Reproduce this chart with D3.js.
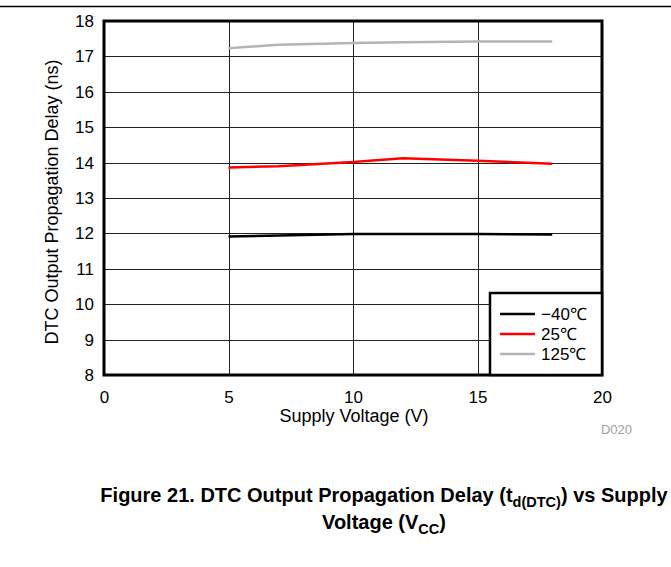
<!DOCTYPE html>
<html>
<head>
<meta charset="utf-8">
<script src="https://cdn.jsdelivr.net/npm/d3@7"></script>
<style>
  body { margin: 0; background: #fff; }
  text { font-family: "Liberation Sans", Arial, sans-serif; }
</style>
</head>
<body>
<script>
// data
var voltage = [5, 7, 10, 12, 15, 18];
var tempLabels = ["\u221240\u2103", "25\u2103", "125\u2103"];
var delayM40 = [11.91, 11.94, 11.98, 11.98, 11.98, 11.97];
var delay25 = [13.86, 13.90, 14.02, 14.12, 14.05, 13.97];
var delay125 = [17.23, 17.33, 17.38, 17.40, 17.42, 17.42];
var xTicks = [0, 5, 10, 15, 20];
var yTicks = [8, 9, 10, 11, 12, 13, 14, 15, 16, 17, 18];

var series = [
  {name: tempLabels[0], values: delayM40, color: "#000000"},
  {name: tempLabels[1], values: delay25, color: "#ff0000"},
  {name: tempLabels[2], values: delay125, color: "#b4b4b4"}
];

var W = 671, H = 567;
var margin = {top: 21, left: 104},
    width = 602 - 104,
    height = 375 - 21;
var FONT = "'Liberation Sans', Arial, sans-serif";

var svg = d3.select("body").append("svg")
    .attr("width", W)
    .attr("height", H);

// rule across the top of the page
svg.append("line")
  .attr("x1", 0).attr("x2", W)
  .attr("y1", 6.5).attr("y2", 6.5)
  .attr("stroke", "#000").attr("stroke-width", 1.5);

var g = svg.append("g")
    .attr("transform", "translate(" + margin.left + "," + margin.top + ")");

var x = d3.scaleLinear().domain([0, 20]).range([0, width]);
var y = d3.scaleLinear().domain([8, 18]).range([height, 0]);

// grid
g.selectAll(".hgrid").data(yTicks.slice(1, -1)).enter().append("line")
  .attr("x1", 0).attr("x2", width)
  .attr("y1", function(d) { return Math.round(y(d)) + 0.5; })
  .attr("y2", function(d) { return Math.round(y(d)) + 0.5; })
  .attr("stroke", "#222").attr("stroke-width", 1);
g.selectAll(".vgrid").data(xTicks.slice(1, -1)).enter().append("line")
  .attr("y1", 0).attr("y2", height)
  .attr("x1", function(d) { return Math.round(x(d)) + 0.5; })
  .attr("x2", function(d) { return Math.round(x(d)) + 0.5; })
  .attr("stroke", "#222").attr("stroke-width", 1);

// axes (labels only)
var xAxis = g.append("g")
  .attr("transform", "translate(0," + height + ")")
  .call(d3.axisBottom(x).tickValues(xTicks).tickSize(0).tickPadding(16));
xAxis.select(".domain").remove();
xAxis.attr("font-size", null).attr("font-family", null);
xAxis.selectAll("text").style("font-size", "17px").attr("fill", "#000")
  .style("font-family", FONT);

var yAxis = g.append("g")
  .call(d3.axisLeft(y).tickValues(yTicks).tickSize(0).tickPadding(10));
yAxis.select(".domain").remove();
yAxis.attr("font-size", null).attr("font-family", null);
yAxis.selectAll("text").style("font-size", "17px").attr("fill", "#000")
  .style("font-family", FONT);

// lines
var line = d3.line()
  .x(function(d, i) { return x(voltage[i]); })
  .y(function(d) { return y(d); });

g.selectAll(".series").data(series).enter().append("path")
  .attr("fill", "none")
  .attr("stroke", function(d) { return d.color; })
  .attr("stroke-width", 2.5)
  .attr("d", function(d) { return line(d.values); });

// frame
g.append("rect")
  .attr("x", 0).attr("y", 0)
  .attr("width", width).attr("height", height)
  .attr("fill", "none").attr("stroke", "#000").attr("stroke-width", 3);

// legend
var lg = g.append("g").attr("transform", "translate(" + (490 - margin.left) + "," + (293 - margin.top) + ")");
lg.append("rect")
  .attr("width", 602 - 490).attr("height", 375 - 293)
  .attr("fill", "#fff").attr("stroke", "#000").attr("stroke-width", 2.5);
var items = lg.selectAll(".item").data(series).enter().append("g")
  .attr("transform", function(d, i) { return "translate(0," + (21 + i * 20) + ")"; });
items.append("line")
  .attr("x1", 10).attr("x2", 45)
  .attr("stroke", function(d) { return d.color; })
  .attr("stroke-width", 2.5);
items.append("text")
  .attr("x", 51).attr("dy", "0.35em")
  .style("font-size", "17px")
  .text(function(d) { return d.name; });

// axis titles
svg.append("text")
  .attr("x", 354).attr("y", 422)
  .attr("text-anchor", "middle").style("font-size", "18px")
  .text("Supply Voltage (V)");
svg.append("text")
  .attr("transform", "translate(58,202) rotate(-90)")
  .attr("text-anchor", "middle").style("font-size", "18px")
  .text("DTC Output Propagation Delay (ns)");
svg.append("text")
  .attr("x", 632).attr("y", 434)
  .attr("text-anchor", "end").style("font-size", "13px").attr("fill", "#a0a0a0")
  .text("D020");

// caption
var cap1 = svg.append("text")
  .attr("x", 384).attr("y", 502)
  .attr("text-anchor", "middle").style("font-size", "20px").attr("font-weight", "bold");
cap1.append("tspan").text("Figure 21. DTC Output Propagation Delay (t");
cap1.append("tspan").style("font-size", "14.5px").attr("dy", 5).text("d(DTC)");
cap1.append("tspan").attr("dy", -5).text(") vs Supply");
var cap2 = svg.append("text")
  .attr("x", 384).attr("y", 529)
  .attr("text-anchor", "middle").style("font-size", "20px").attr("font-weight", "bold");
cap2.append("tspan").text("Voltage (V");
cap2.append("tspan").style("font-size", "14.5px").attr("dy", 5).text("CC");
cap2.append("tspan").attr("dy", -5).text(")");
</script>
</body>
</html>
